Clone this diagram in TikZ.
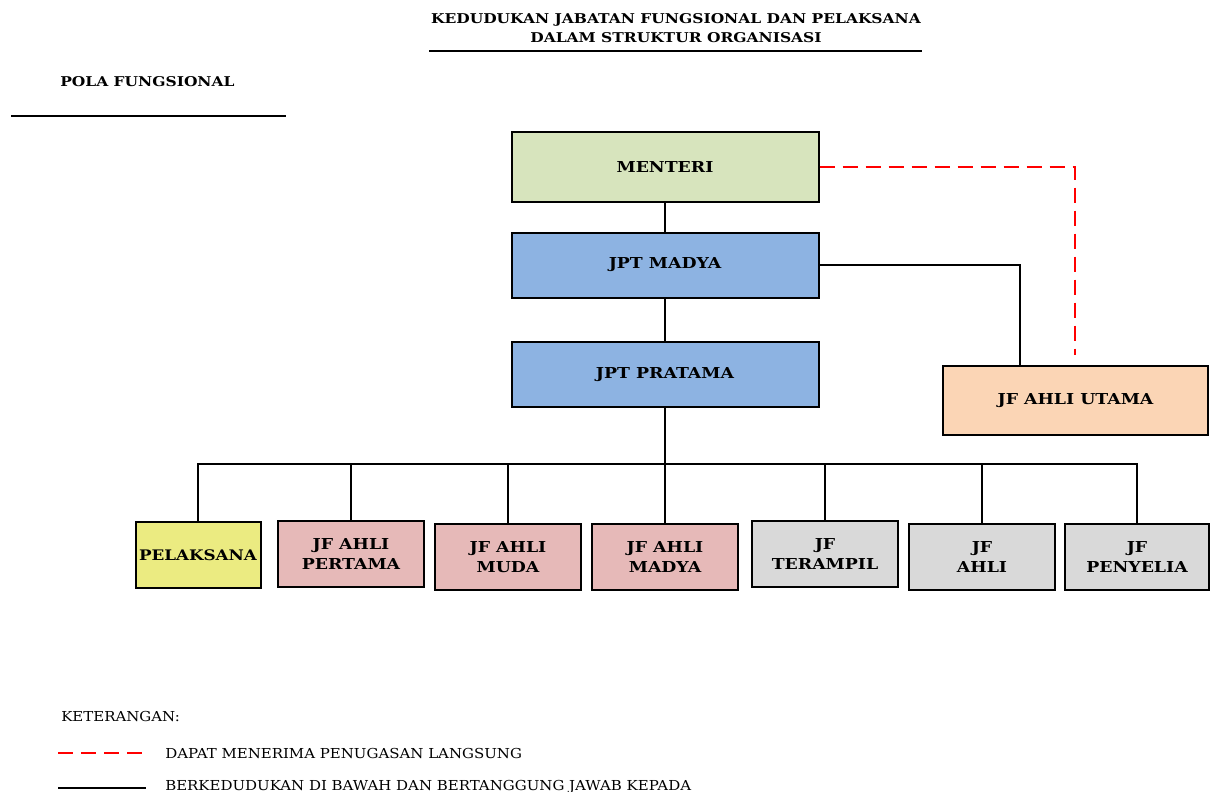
\documentclass[tikz,border=0pt]{standalone}
\usepackage{fontspec}
\setmainfont{DejaVu Serif}
\newfontfamily\bwide[FakeStretch=1.15]{DejaVu Serif}
\newfontfamily\rwide[FakeStretch=1.09]{DejaVu Serif}
\definecolor{cMenteri}{HTML}{D7E4BD}
\definecolor{cJpt}{HTML}{8DB3E2}
\definecolor{cUtama}{HTML}{FBD5B5}
\definecolor{cPel}{HTML}{EBEB81}
\definecolor{cAhli}{HTML}{E6B9B8}
\definecolor{cGrey}{HTML}{D9D9D9}
\definecolor{cRed}{HTML}{FF0000}
\begin{document}
\begin{tikzpicture}[x=0.75pt,y=-0.75pt,
  box/.style={draw=black, line width=1.5pt, inner sep=0pt, align=center,
    font=\bwide\fontsize{11.3}{14.5}\selectfont\bfseries},
  topbox/.style={box, minimum width=230.25pt, minimum height=48.75pt},
  botbox/.style={box, minimum width=109.5pt, minimum height=49.5pt},
  conn/.style={line width=1.4pt, black},
  redline/.style={line width=1.5pt, cRed, dash pattern=on 11.25pt off 6pt},
  legtext/.style={anchor=west, inner sep=0pt, font=\rwide\fontsize{10.3}{12}\selectfont}
]
\useasboundingbox (0,0) rectangle (1210,792);

% titles
\node[align=center, inner sep=0pt, font=\bwide\fontsize{10.1}{14.25}\selectfont\bfseries] (title) at (676,28.5)
  {KEDUDUKAN JABATAN FUNGSIONAL DAN PELAKSANA\\DALAM STRUKTUR ORGANISASI};
\coordinate (tl) at (429,51);
\coordinate (tr) at (922,51);
\draw[line width=1.4pt] (tl) -- (tr);

\node[anchor=west, inner sep=0pt, font=\bwide\fontsize{10.1}{12}\selectfont\bfseries] (pola) at (60,82) {POLA FUNGSIONAL};
\coordinate (pl) at (11,116);
\coordinate (pr) at (286,116);
\draw[line width=1.4pt] (pl) -- (pr);

% top boxes
\node[topbox, fill=cMenteri, minimum height=52.5pt] (menteri) at (665,167) {MENTERI};
\node[topbox, fill=cJpt] (madya) at (665,265) {JPT MADYA};
\node[topbox, fill=cJpt] (pratama) at (665,374.5) {JPT PRATAMA};
\node[box, fill=cUtama, minimum width=198.75pt, minimum height=51.75pt] (utama) at (1075.5,400.5) {JF AHLI UTAMA};

% bottom boxes
\node[botbox, fill=cPel, minimum width=93.75pt, font=\bwide\fontsize{10.9}{14.5}\selectfont\bfseries] (pel) at (198,555) {PELAKSANA};
\node[botbox, fill=cAhli] (pertama) at (351,554) {JF AHLI\\PERTAMA};
\node[botbox, fill=cAhli] (muda) at (508,557) {JF AHLI\\MUDA};
\node[botbox, fill=cAhli] (amadya) at (665,557) {JF AHLI\\MADYA};
\node[botbox, fill=cGrey] (terampil) at (825,554) {JF\\TERAMPIL};
\node[botbox, fill=cGrey] (ahli) at (982,557) {JF\\AHLI};
\node[botbox, fill=cGrey, minimum width=108pt] (penyelia) at (1137,557) {JF\\PENYELIA};

% connectors
\draw[conn] (menteri.south) -- (madya.north);
\draw[conn] (madya.south) -- (pratama.north);
\coordinate (utamaL) at (1020,366);
\draw[conn] (madya.east) -| (utamaL);
\coordinate (redEnd) at (1075,355);
\draw[redline] (menteri.east) -| (redEnd);

\coordinate (bus) at (665,464);
\draw[conn] (pratama.south) -- (bus);
\foreach \n in {pel,pertama,muda,amadya,terampil,ahli,penyelia}{
  \draw[conn] (\n.north) |- (bus);
}

% legend
\node[legtext] (ket) at (61,716) {KETERANGAN:};
\coordinate (l1a) at (58,753);
\coordinate (l1b) at (146,753);
\draw[redline] (l1a) -- (l1b);
\node[legtext] (leg1) at (165,753) {DAPAT MENERIMA PENUGASAN LANGSUNG};
\coordinate (l2a) at (58,788);
\coordinate (l2b) at (146,788);
\draw[line width=1.5pt] (l2a) -- (l2b);
\node[legtext] (leg2) at (165,787) {BERKEDUDUKAN DI BAWAH DAN BERTANGGUNG JAWAB KEPADA};
\end{tikzpicture}
\end{document}
